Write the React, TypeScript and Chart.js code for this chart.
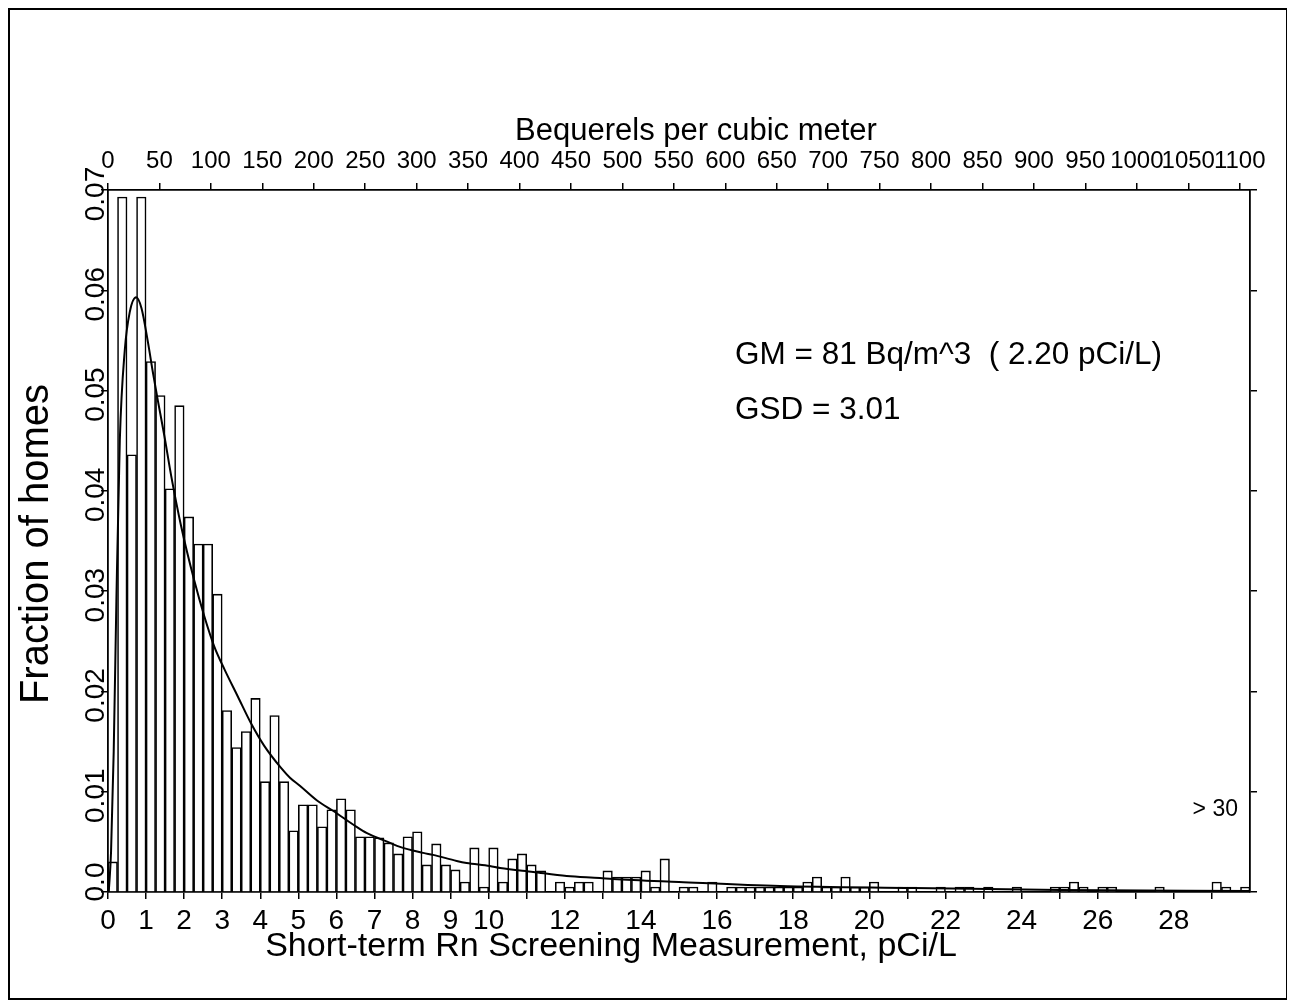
import React, { useEffect, useRef } from "react";
import { Chart, registerables } from "chart.js";

Chart.register(...registerables);

const FONT = "'Liberation Sans', Arial, Helvetica, sans-serif";

// Histogram bins: 0.25 pCi/L wide, starting at 0
const BIN_WIDTH = 0.25;
const binValues = [
  0.003, 0.0693, 0.0436, 0.0693, 0.0529, 0.0495, 0.0402, 0.0485, 0.0374, 0.0347,
  0.0347, 0.0297, 0.0181, 0.0144, 0.016, 0.0193, 0.011, 0.0176, 0.011, 0.0061,
  0.0087, 0.0087, 0.0065, 0.0082, 0.0093, 0.0082, 0.0055, 0.0055, 0.0054, 0.0049,
  0.0038, 0.0055, 0.006, 0.0027, 0.0048, 0.0027, 0.0022, 0.001, 0.0044, 0.0005,
  0.0044, 0.001, 0.0033, 0.0038, 0.0027, 0.0021, 0, 0.001, 0.0005, 0.001,
  0.001, 0, 0.0021, 0.0015, 0.0015, 0.0015, 0.0021, 0.0005, 0.0033, 0,
  0.0005, 0.0005, 0, 0.001, 0, 0.0005, 0.0005, 0.0005, 0.0005, 0.0005,
  0.0005, 0.0005, 0.0005, 0.001, 0.0015, 0.0005, 0.0005, 0.0015, 0.0005, 0.0005,
  0.001, 0, 0, 0.0005, 0.0005, 0, 0, 0.0005, 0, 0.0005,
  0.0005, 0, 0.0005, 0, 0, 0.0005, 0, 0, 0, 0.0005,
  0.0005, 0.001, 0.0005, 0, 0.0005, 0.0005, 0, 0, 0, 0,
  0.0005, 0, 0, 0, 0, 0, 0.001, 0.0005, 0, 0.0005,
];

// Fitted lognormal curve
const curveX = [
  0.02, 0.08, 0.15, 0.22, 0.31, 0.44, 0.57, 0.74, 0.88, 1.05, 1.18, 1.31, 1.48, 1.66,
  1.92, 2.27, 2.53, 2.79, 3.06, 3.41, 3.76, 4.1, 4.54, 4.78, 5.04, 5.5, 5.91, 6.53,
  6.79, 7.41, 7.67, 8.28, 8.54, 9.16, 9.42, 10.03, 10.3, 11.17, 12.05, 12.92, 13.26,
  15.0, 17.65, 21.15, 25.0, 30.0,
];
const curveY = [
  0.0, 0.004, 0.014, 0.029, 0.045, 0.054, 0.0578, 0.0593, 0.0582, 0.0548, 0.0518, 0.049, 0.0455, 0.0415,
  0.0365, 0.031, 0.0275, 0.0245, 0.0222, 0.0195, 0.0168, 0.0146, 0.0124, 0.0114, 0.0106, 0.0091, 0.0081, 0.0065,
  0.0059, 0.0049, 0.0045, 0.0039, 0.0037, 0.0031, 0.0029, 0.0026, 0.0024, 0.002, 0.0016, 0.0014, 0.0013,
  0.001, 0.0006, 0.0004, 0.0002, 0.0001,
];

const X_TICKS = [0,1,2,3,4,5,6,7,8,9,10,11,12,13,14,15,16,17,18,19,20,21,22,23,24,25,26,27,28,29];
const X_LABELS = ["0","1","2","3","4","5","6","7","8","9","10","","12","","14","","16","","18","","20","","22","","24","","26","","28",""];
const TOP_TICKS = [0,50,100,150,200,250,300,350,400,450,500,550,600,650,700,750,800,850,900,950,1000,1050,1100];
const Y_TICKS = [0, 0.01, 0.02, 0.03, 0.04, 0.05, 0.06, 0.07];
const Y_LABELS = ["0.0", "0.01", "0.02", "0.03", "0.04", "0.05", "0.06", "0.07"];
const BQ_PER_PCI = 37;
const X_MAX = 30;

const annotate = {
  id: "annotate",
  afterDraw(chart: any) {
    const { ctx } = chart;
    const yS = chart.scales.y;
    ctx.save();
    ctx.fillStyle = "#000";
    ctx.textAlign = "center";
    ctx.textBaseline = "middle";
    ctx.font = `28px ${FONT}`;
    Y_TICKS.forEach((v, i) => {
      const py = yS.getPixelForValue(v) + (i === 0 ? -10 : 4);
      ctx.save();
      ctx.translate(96, py);
      ctx.rotate(-Math.PI / 2);
      ctx.fillText(Y_LABELS[i], 0, 0);
      ctx.restore();
    });
    ctx.font = `31px ${FONT}`;
    ctx.fillText("Bequerels per cubic meter", 696, 131);
    ctx.font = `34px ${FONT}`;
    ctx.fillText("Short-term Rn Screening Measurement, pCi/L", 611, 947);
    ctx.save();
    ctx.font = `40px ${FONT}`;
    ctx.translate(37, 544);
    ctx.rotate(-Math.PI / 2);
    ctx.fillText("Fraction of homes", 0, 0);
    ctx.restore();
    ctx.font = `31.5px ${FONT}`;
    ctx.textAlign = "left";
    ctx.fillText("GM = 81 Bq/m^3  ( 2.20 pCi/L)", 735, 355);
    ctx.fillText("GSD = 3.01", 735, 410);
    ctx.textAlign = "right";
    ctx.font = `23px ${FONT}`;
    ctx.fillText("> 30", 1238, 810);
    ctx.restore();
  },
};

export default function App() {
  const ref = useRef<HTMLCanvasElement | null>(null);
  useEffect(() => {
    if (!ref.current) return;
    const bars = binValues.map((v, i) => ({ x: i * BIN_WIDTH + BIN_WIDTH / 2, y: v }));
    const curve = curveX.map((x, i) => ({ x, y: curveY[i] }));
    const axisCommon = {
      grid: { drawOnChartArea: false, drawTicks: true, tickLength: 7, color: "#000", tickColor: "#000", tickWidth: 1.5, lineWidth: 1.5, offset: false },
      border: { display: true, color: "#000", width: 1.8 },
      offset: false,
    };
    const chart = new Chart(ref.current, {
      type: "bar",
      data: {
        datasets: [
          {
            type: "line",
            data: curve,
            borderColor: "#000",
            borderWidth: 2,
            pointRadius: 0,
            fill: false,
            cubicInterpolationMode: "monotone",
            xAxisID: "x",
            yAxisID: "y",
            order: 1,
          } as any,
          {
            type: "bar",
            data: bars,
            backgroundColor: "#fff",
            borderColor: "#000",
            borderWidth: 1.6,
            borderSkipped: "bottom",
            barPercentage: 1,
            categoryPercentage: 1,
            xAxisID: "x",
            yAxisID: "y",
            order: 2,
          } as any,
        ],
      },
      options: {
        responsive: false,
        maintainAspectRatio: false,
        animation: false,
        layout: { padding: 0 },
        plugins: { legend: { display: false }, tooltip: { enabled: false } },
        scales: {
          x: {
            ...axisCommon,
            type: "linear",
            position: "bottom",
            min: 0,
            max: X_MAX,
            afterBuildTicks: (s: any) => { s.ticks = X_TICKS.map((v) => ({ value: v })); },
            afterFit: (s: any) => { s.height = 116; },
            ticks: {
              autoSkip: false,
              maxRotation: 0,
              minRotation: 0,
              padding: 5,
              color: "#000",
              font: { size: 28, family: FONT },
              callback: (_v: any, i: number) => X_LABELS[i],
            },
          },
          x2: {
            ...axisCommon,
            type: "linear",
            position: "top",
            min: 0,
            max: X_MAX * BQ_PER_PCI,
            afterBuildTicks: (s: any) => { s.ticks = TOP_TICKS.map((v) => ({ value: v })); },
            afterFit: (s: any) => { s.height = 190; },
            ticks: {
              autoSkip: false,
              maxRotation: 0,
              minRotation: 0,
              padding: 7,
              color: "#000",
              font: { size: 24, family: FONT },
              callback: (v: any) => String(v),
            },
          },
          y: {
            ...axisCommon,
            type: "linear",
            position: "left",
            min: 0,
            max: 0.07,
            afterBuildTicks: (s: any) => { s.ticks = Y_TICKS.map((v) => ({ value: v })); },
            afterFit: (s: any) => { s.width = 108; },
            ticks: { display: false },
          },
          y2: {
            ...axisCommon,
            type: "linear",
            position: "right",
            min: 0,
            max: 0.07,
            afterBuildTicks: (s: any) => { s.ticks = Y_TICKS.map((v) => ({ value: v })); },
            afterFit: (s: any) => { s.width = 45; },
            ticks: { display: false },
          },
        },
      } as any,
      plugins: [annotate],
    });
    return () => chart.destroy();
  }, []);

  return (
    <div style={{ position: "relative", width: 1279, height: 992 }}>
      <canvas
        ref={ref}
        width={1295}
        height={1008}
        style={{ position: "absolute", left: -8, top: -8, width: 1295, height: 1008 }}
      />
      <div
        style={{
          position: "absolute",
          left: 0,
          top: 0,
          width: 1280,
          height: 992,
          boxSizing: "border-box",
          border: "2px solid #000",
          pointerEvents: "none",
        }}
      />
    </div>
  );
}
